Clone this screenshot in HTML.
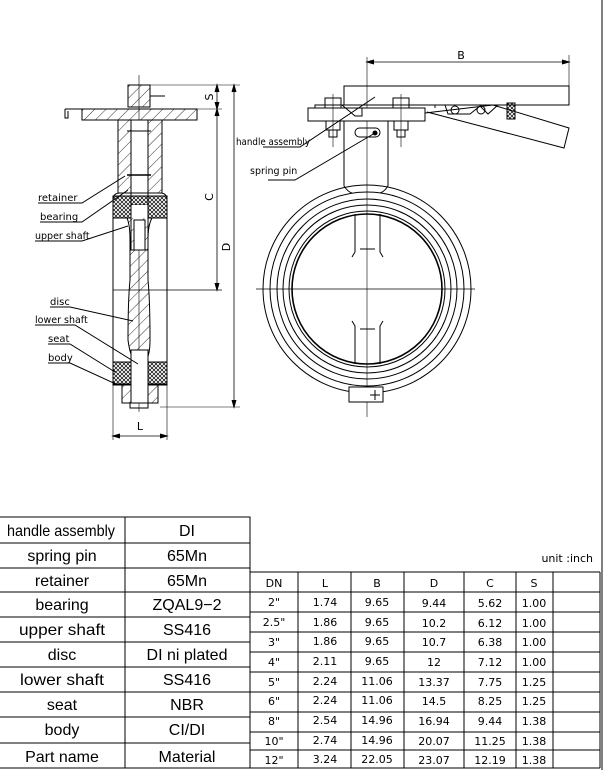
<!DOCTYPE html>
<html><head><meta charset="utf-8"><style>
html,body{margin:0;padding:0;background:#fff}
svg{display:block}
text{font-family:"DejaVu Sans","Liberation Sans",sans-serif;fill:#000}
.t text{font-family:"Liberation Sans",sans-serif}
</style></head><body>
<svg width="607" height="770" viewBox="0 0 607 770" xmlns="http://www.w3.org/2000/svg">
<defs>
<pattern id="h" width="8" height="8" patternUnits="userSpaceOnUse" patternTransform="rotate(45)">
<line x1="0" y1="0" x2="0" y2="8" stroke="#000" stroke-width="0.8"/></pattern>
<pattern id="x" width="4" height="4" patternUnits="userSpaceOnUse">
<path d="M0 0L4 4M4 0L0 4" stroke="#000" stroke-width="0.7"/></pattern>
</defs>
<rect width="607" height="770" fill="#fff"/>
<line x1="602" y1="0" x2="602" y2="770" stroke="#000"/>
<g stroke="#000" stroke-width="1" fill="none">
<line x1="139" y1="75" x2="139" y2="412" stroke-width="0.6"/>
<rect x="128" y="85" width="22" height="22" fill="url(#h)"/>
<line x1="150" y1="96" x2="165" y2="96"/>
<path d="M65 109H82M65 109V118H68V111" />
<rect x="82" y="109" width="115" height="11" fill="url(#h)"/>
<rect x="118" y="120" width="44" height="73" fill="url(#h)"/>
<rect x="131" y="120" width="17" height="85" fill="#fff"/>
<line x1="127" y1="131" x2="151" y2="131"/>
<line x1="127" y1="175" x2="151" y2="175" stroke-width="1.5"/>
<path d="M113 200Q113 193 120 193H160Q167 193 167 200V385H113Z"/>
<rect x="113" y="196" width="54" height="22" fill="url(#x)" stroke="none"/>
<rect x="113" y="196" width="54" height="22"/>
<path d="M131 205V250H148V205" fill="#fff"/>
<path d="M127 218Q130 225 130 240V280Q128 300 128 340Q130 355 134 360H146Q150 355 150 340Q150 300 148 280V240Q148 225 152 218" fill="url(#h)"/>
<rect x="134" y="220" width="11" height="30" fill="#fff"/>
<rect x="113" y="362" width="54" height="22" fill="url(#x)" stroke="none"/>
<rect x="113" y="362" width="54" height="22"/>
<path d="M113 384H122V403H158V384H167" fill="url(#h)"/>
<rect x="131" y="350" width="17" height="53" fill="#fff"/>
<rect x="130" y="403" width="18" height="5"/>
<line x1="150" y1="85" x2="240" y2="85" stroke-width="0.6"/>
<line x1="197" y1="109" x2="222" y2="109" stroke-width="0.6"/>
<line x1="113" y1="290" x2="222" y2="290" stroke-width="0.8"/>
<line x1="160" y1="407" x2="240" y2="407" stroke-width="0.6"/>
<line x1="217" y1="85" x2="217" y2="290" stroke-width="0.8"/>
<line x1="234" y1="85" x2="234" y2="407" stroke-width="0.8"/>
<line x1="113" y1="385" x2="113" y2="440" stroke-width="0.6"/>
<line x1="167" y1="385" x2="167" y2="440" stroke-width="0.6"/>
<line x1="113" y1="436" x2="167" y2="436" stroke-width="0.8"/>
<path d="M215 92L217 85L219 92M215 102L217 109L219 102M215 116L217 109L219 116M215 283L217 290L219 283M232 92L234 85L236 92M232 400L234 407L236 400M120 434L113 436L120 438M160 434L167 436L160 438" fill="#000"/>
<path d="M38 203H82L125 176"/>
<path d="M40 222H82L128 190"/>
<path d="M35 241H82L128 226"/>
<path d="M50 307H70L133 321"/>
<path d="M35 325H75L138 364"/>
<path d="M48 344H70L115 372"/>
<path d="M48 363H70L118 385"/>
<line x1="367" y1="57" x2="367" y2="417" stroke-width="0.6"/>
<line x1="256" y1="289" x2="475" y2="289" stroke-width="0.8"/>
<path d="M344 120V186M388 120V186"/>
<path d="M344 186Q348 192 352 193M388 186Q384 192 380 193"/>
<circle cx="367" cy="289" r="104"/>
<circle cx="367" cy="289" r="97"/>
<circle cx="367" cy="289" r="90"/>
<circle cx="367" cy="289" r="84"/>
<circle cx="367" cy="289" r="78"/>
<circle cx="367" cy="289" r="75" stroke-width="1.6"/>
<path d="M355 214V252L352 257M380 214V252L383 257M360 249H375"/>
<path d="M355 364V326L352 321M380 364V326L383 321M360 329H375"/>
<rect x="349" y="387" width="34" height="15" fill="#fff"/>
<path d="M375 390V400M370 395H380"/>
<rect x="308" y="108" width="117" height="13" fill="#fff"/>
<path d="M315 108V105H435V108"/>
<path d="M342 105L355 116H362V108"/>
<rect x="344" y="86" width="225" height="19"/>
<path d="M425 113L493 105L569 128L564 148L427 112"/>
<path d="M445 105L448 114H470L480 106L488 114L498 105"/>
<circle cx="455" cy="110" r="4"/><circle cx="481" cy="110" r="4"/>
<rect x="507" y="103" width="8" height="16" fill="url(#x)"/>
<rect x="325" y="98" width="16" height="10"/><rect x="393" y="98" width="16" height="10"/>
<rect x="326" y="121" width="14" height="9"/><rect x="394" y="121" width="14" height="9"/>
<rect x="329" y="130" width="8" height="7"/><rect x="397" y="130" width="8" height="7"/>
<line x1="333" y1="94" x2="333" y2="147" stroke-width="0.6"/>
<line x1="401" y1="94" x2="401" y2="147" stroke-width="0.6"/>
<rect x="355" y="128" width="25" height="9" rx="4.5"/>
<circle cx="375" cy="133" r="2" fill="#000"/>
<line x1="367" y1="62" x2="569" y2="62" stroke-width="0.8"/>
<line x1="569" y1="55" x2="569" y2="86" stroke-width="0.6"/>
<path d="M374 60L367 62L374 64M562 60L569 62L562 64" fill="#000"/>
<path d="M263 147H300L375 97"/>
<path d="M268 180H295L375 133"/>
<path d="M0 517H250V768H0M0 543H250M0 568H250M0 592H250M0 617H250M0 642H250M0 667H250M0 692H250M0 717H250M0 743H250M125 517V768"/>
<path d="M250 572H600M250 592H600M250 612H600M250 632H600M250 652H600M250 672H600M250 692H600M250 712H600M250 732H600M250 750H600M250 768H600"/>
<path d="M298 572V768M351 572V768M404 572V768M464 572V768M516 572V768M553 572V768M600 572V768"/>
</g>
<g font-size="10">
<text x="38" y="201">retainer</text>
<text x="40" y="220">bearing</text>
<text x="35" y="239" font-size="9.5">upper shaft</text>
<text x="50" y="305">disc</text>
<text x="35" y="323" font-size="9.5">lower shaft</text>
<text x="48" y="342">seat</text>
<text x="48" y="361">body</text>
<text x="236" y="145" font-size="9.5" textLength="74" lengthAdjust="spacingAndGlyphs">handle assembly</text>
<text x="250" y="174" font-size="9.5">spring pin</text>
</g>
<g font-size="11">
<text x="461" y="59" text-anchor="middle">B</text>
<text x="140" y="430" text-anchor="middle">L</text>
<text transform="translate(213,97) rotate(-90)" text-anchor="middle">S</text>
<text transform="translate(213,197) rotate(-90)" text-anchor="middle">C</text>
<text transform="translate(230,247) rotate(-90)" text-anchor="middle">D</text>
</g>
<g class="t" font-size="16" text-anchor="middle">
<text x="61" y="536" textLength="108" lengthAdjust="spacingAndGlyphs">handle assembly</text><text x="187" y="536">DI</text>
<text x="62" y="561">spring pin</text><text x="187" y="561">65Mn</text>
<text x="62" y="586">retainer</text><text x="187" y="586">65Mn</text>
<text x="62" y="610">bearing</text><text x="187" y="610">ZQAL9−2</text>
<text x="62" y="635" textLength="86" lengthAdjust="spacingAndGlyphs">upper shaft</text><text x="187" y="635">SS416</text>
<text x="62" y="660">disc</text><text x="187" y="660">DI ni plated</text>
<text x="62" y="685" textLength="84" lengthAdjust="spacingAndGlyphs">lower shaft</text><text x="187" y="685">SS416</text>
<text x="62" y="710">seat</text><text x="187" y="710">NBR</text>
<text x="62" y="735">body</text><text x="187" y="735">CI/DI</text>
<text x="62" y="762">Part name</text><text x="187" y="762">Material</text>
</g>
<text x="593" y="562" font-size="11" text-anchor="end">unit :inch</text>
<g font-size="11" text-anchor="middle">
<text x="274" y="587">DN</text><text x="325" y="587">L</text><text x="377" y="587">B</text><text x="434" y="587">D</text><text x="490" y="587">C</text><text x="534" y="587">S</text>
<text x="274" y="606">2"</text><text x="325" y="606">1.74</text><text x="377" y="606">9.65</text><text x="434" y="607">9.44</text><text x="490" y="607">5.62</text><text x="534" y="607">1.00</text>
<text x="274" y="626">2.5"</text><text x="325" y="626">1.86</text><text x="377" y="626">9.65</text><text x="434" y="627">10.2</text><text x="490" y="627">6.12</text><text x="534" y="627">1.00</text>
<text x="274" y="646">3"</text><text x="325" y="645">1.86</text><text x="377" y="645">9.65</text><text x="434" y="646">10.7</text><text x="490" y="646">6.38</text><text x="534" y="646">1.00</text>
<text x="274" y="666">4"</text><text x="325" y="665">2.11</text><text x="377" y="665">9.65</text><text x="434" y="666">12</text><text x="490" y="666">7.12</text><text x="534" y="666">1.00</text>
<text x="274" y="686">5"</text><text x="325" y="685">2.24</text><text x="377" y="685">11.06</text><text x="434" y="686">13.37</text><text x="490" y="686">7.75</text><text x="534" y="686">1.25</text>
<text x="274" y="705">6"</text><text x="325" y="704">2.24</text><text x="377" y="704">11.06</text><text x="434" y="705">14.5</text><text x="490" y="705">8.25</text><text x="534" y="705">1.25</text>
<text x="274" y="725">8"</text><text x="325" y="724">2.54</text><text x="377" y="724">14.96</text><text x="434" y="725">16.94</text><text x="490" y="725">9.44</text><text x="534" y="725">1.38</text>
<text x="274" y="745">10"</text><text x="325" y="744">2.74</text><text x="377" y="744">14.96</text><text x="434" y="745">20.07</text><text x="490" y="745">11.25</text><text x="534" y="745">1.38</text>
<text x="274" y="764">12"</text><text x="325" y="763">3.24</text><text x="377" y="763">22.05</text><text x="434" y="764">23.07</text><text x="490" y="764">12.19</text><text x="534" y="764">1.38</text>
</g>
</svg>
</body></html>
